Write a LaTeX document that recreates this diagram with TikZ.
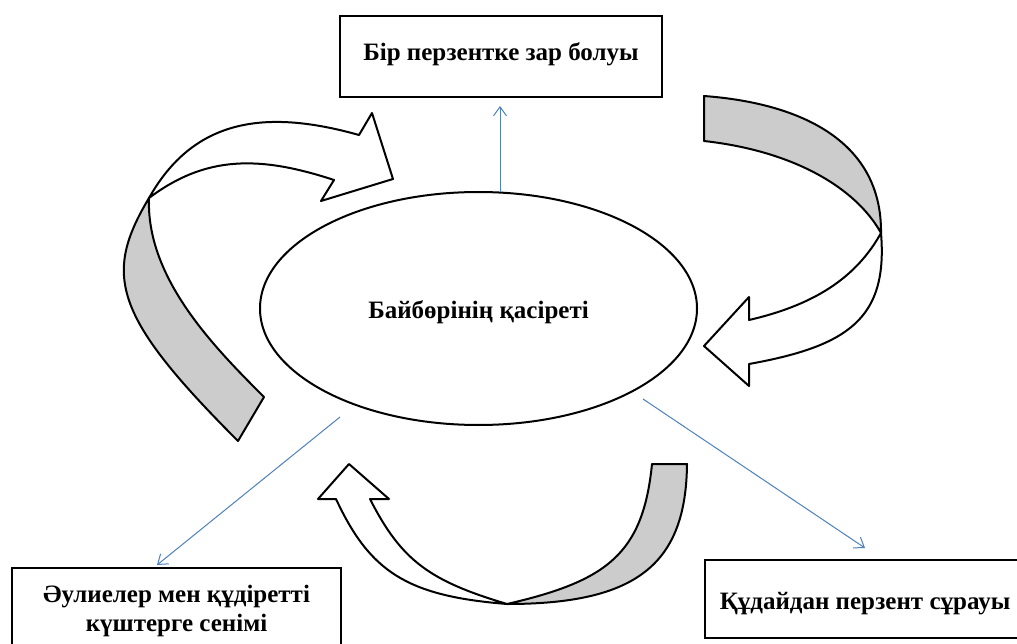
\documentclass[tikz,border=0pt]{standalone}
\usepackage{fontspec}
\setmainfont{Liberation Serif}
\usetikzlibrary{shapes.geometric,arrows.meta}
\definecolor{linkblue}{RGB}{79,129,189}
\definecolor{bandgrey}{RGB}{204,204,204}
\begin{document}
\begin{tikzpicture}[x=1pt,y=-1pt,
  box/.style={draw, line width=2pt, font=\fontsize{25}{29}\selectfont\bfseries, align=center, inner sep=0pt},
  hub/.style={draw, ellipse, line width=2pt, font=\fontsize{25}{29}\selectfont\bfseries, inner sep=0pt},
  link/.style={draw=linkblue, line width=1pt, -{Straight Barb[length=9pt,width=13pt]}},
  greyband/.style={draw, fill=bandgrey, line width=2pt, line join=round},
  whiteband/.style={draw, fill=white, line width=2pt, line join=round},
]
\clip (0,0) rectangle (1017,644);
\fill[white] (0,0) rectangle (1017,644);

% curved arrow, left
\path[greyband] (238,441) .. controls (113,316) and (103,275) .. (149,198)
  .. controls (146,278) and (214,347) .. (264,397) -- cycle;
\path[whiteband] (149,198) .. controls (193,120) and (263,108) .. (359,135)
  -- (372,113) -- (393,179) -- (321,201) -- (334,180)
  .. controls (258,155) and (205,156) .. (149,198) -- cycle;
% curved arrow, right
\path[greyband] (704,96) .. controls (804,103.5) and (882,143) .. (881,233)
  .. controls (856,188) and (794,151) .. (704,141) -- cycle;
\path[whiteband] (881,233) .. controls (888,318) and (849,346) .. (749,364)
  -- (749,386) -- (704,346) -- (749,297) -- (749,320)
  .. controls (814,305) and (856,278) .. (881,233) -- cycle;
% curved arrow, bottom
\path[greyband] (687,464) .. controls (686,564) and (637,604) .. (507,604)
  .. controls (607,581) and (643,554) .. (652,464) -- cycle;
\path[whiteband] (507,604) .. controls (407,596) and (370,572) .. (336,499)
  -- (318,499) -- (349,464) -- (389,499) -- (370,499)
  .. controls (401.5,561) and (430,581) .. (507,604) -- cycle;

% nodes
\node[hub, minimum width=437pt, minimum height=233pt] (hub) at (478.5,308.5) {\raisebox{-9.5pt}[0pt][0pt]{Байбөрінің қасіреті}};
\node[box, minimum width=322pt, minimum height=81pt] (top) at (501,56.5) {\raisebox{-4.5pt}[0pt][0pt]{Бір перзентке зар болуы}};
\node[box, minimum width=329pt, minimum height=86pt] (left) at (176.5,611) {Әулиелер мен құдіретті\\күштерге сенімі};
\node[box, minimum width=320pt, minimum height=78pt] (right) at (865,599) {\raisebox{-10pt}[0pt][0pt]{Құдайдан перзент сұрауы}};

% connectors
\coordinate (s1) at (500,192);
\coordinate (e1) at (500,106);
\coordinate (s2) at (340,417);
\coordinate (e2) at (157,565);
\coordinate (s3) at (643,399);
\coordinate (e3) at (865,548);
\draw[link] (s1) -- (e1);
\draw[link] (s2) -- (e2);
\draw[link] (s3) -- (e3);
\end{tikzpicture}
\end{document}
